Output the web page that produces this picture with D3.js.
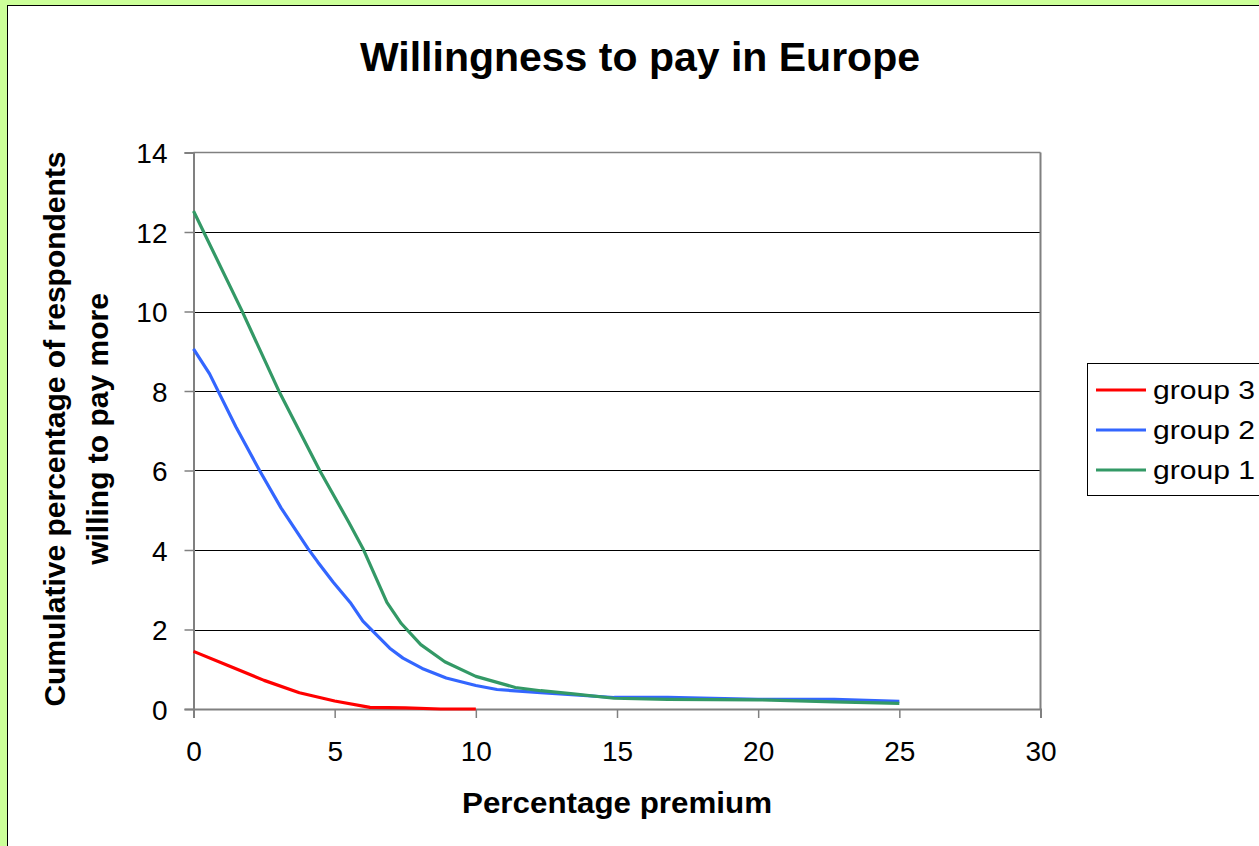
<!DOCTYPE html>
<html>
<head>
<meta charset="utf-8">
<title>Willingness to pay in Europe</title>
<script src="https://d3js.org/d3.v7.min.js"></script>
<style>
  body { margin:0; background:#ccff99; }
  svg { display:block; font-family:"Liberation Sans", Arial, sans-serif; }
</style>
</head>
<body>
<script>
// values: [premium %, cumulative %]
var group1 = [[0,12.53],[1.7,10.04],[3.05,7.96],[4.47,6.0],[5.5,4.7],[6.0,4.04],[6.85,2.68],[7.36,2.15],[8.05,1.62],[8.9,1.19],[10.0,0.82],[11.4,0.54],[12.3,0.46],[13.45,0.38],[14.9,0.27],[16.8,0.24],[20,0.23],[22.7,0.18],[25,0.14]];
var group2 = [[0,9.06],[0.57,8.43],[1.5,7.1],[2.34,6.0],[3.1,5.06],[4.05,4.04],[4.4,3.7],[4.95,3.19],[5.55,2.68],[6.0,2.21],[6.95,1.53],[7.42,1.28],[8.1,1.02],[8.95,0.78],[10.0,0.59],[10.75,0.49],[12.3,0.41],[14.9,0.29],[16.8,0.29],[20,0.24],[22.7,0.24],[25,0.19]];
var group3 = [[0,1.45],[1.2,1.1],[2.5,0.72],[3.75,0.41],[5,0.2],[6.25,0.04],[7.5,0.03],[8.75,0],[10,0]];
var seriesNames = ["group 3","group 2","group 1"];
var seriesColors = ["#ff0000","#3366ff","#339966"];
var xTicks = [0,5,10,15,20,25,30];
var yTicks = [0,2,4,6,8,10,12,14];

const w = 1259, h = 846;
const pLeft = 193.5, pRight = 1040.5, pTop = 152.5, pBottom = 709;

const svg = d3.select("body").append("svg").attr("width", w).attr("height", h);

// white panel
svg.append("rect").attr("x",7.5).attr("y",5.5).attr("width",w).attr("height",h)
   .attr("fill","#fff").attr("stroke","#000").attr("stroke-width",1);

const x = d3.scaleLinear().domain([0,30]).range([pLeft,pRight]);
const y = d3.scaleLinear().domain([0,14]).range([pBottom,pTop]);

// gridlines
svg.append("g").selectAll("line").data(yTicks.filter(d => d > 0 && d < 14)).enter().append("line")
   .attr("x1",pLeft).attr("x2",pRight).attr("y1",d => Math.round(y(d))+0.5).attr("y2",d => Math.round(y(d))+0.5)
   .attr("stroke","#000").attr("stroke-width",1);
svg.append("line").attr("x1",pLeft).attr("x2",pRight).attr("y1",pTop).attr("y2",pTop).attr("stroke","#808080").attr("stroke-width",1.5);
svg.append("line").attr("x1",pRight).attr("x2",pRight).attr("y1",pTop).attr("y2",pBottom).attr("stroke","#808080").attr("stroke-width",2);

// axes
const xAxis = svg.append("g").attr("transform","translate(0,"+pBottom+")")
   .call(d3.axisBottom(x).tickValues(xTicks).tickSize(9).tickPadding(23));
const yAxis = svg.append("g").attr("transform","translate("+pLeft+",0)")
   .call(d3.axisLeft(y).tickValues(yTicks).tickSize(9).tickPadding(17));
[xAxis, yAxis].forEach(function(a){
  a.select(".domain").attr("stroke","#808080").attr("stroke-width",2);
  a.selectAll(".tick line").attr("stroke","#808080").attr("stroke-width",1.5);
  a.selectAll("text").attr("font-size",28).attr("fill","#000").attr("font-family","Liberation Sans, Arial, sans-serif");
});
yAxis.selectAll("text").attr("dy","0.36em");

// series lines
const line = d3.line().x(d => x(d[0])).y(d => y(d[1]));
[group3, group2, group1].forEach(function(s, i){
  svg.append("path").datum(s).attr("d", line).attr("fill","none")
     .attr("stroke", seriesColors[i]).attr("stroke-width",3.2).attr("stroke-linejoin","round");
});

// titles
svg.append("text").attr("x",640).attr("y",71).attr("text-anchor","middle")
   .attr("font-size",41).attr("font-weight","bold").text("Willingness to pay in Europe");
svg.append("text").attr("x",617).attr("y",813).attr("text-anchor","middle")
   .attr("font-size",29).attr("font-weight","bold")
   .attr("textLength",310).attr("lengthAdjust","spacingAndGlyphs").text("Percentage premium");
const yt = svg.append("text").attr("transform","translate(0,429) rotate(-90)")
   .attr("text-anchor","middle").attr("font-size",30).attr("font-weight","bold");
yt.append("tspan").attr("x",0).attr("y",65).text("Cumulative percentage of respondents");
yt.append("tspan").attr("x",0).attr("y",108).text("willing to pay more");

// legend
const lg = svg.append("g");
lg.append("rect").attr("x",1087.5).attr("y",363.5).attr("width",200).attr("height",132)
  .attr("fill","#fff").attr("stroke","#000").attr("stroke-width",1);
seriesNames.forEach(function(n, i){
  const yy = 390 + i*40;
  lg.append("line").attr("x1",1096).attr("x2",1146).attr("y1",yy).attr("y2",yy)
    .attr("stroke",seriesColors[i]).attr("stroke-width",3.2);
  lg.append("text").attr("x",1153).attr("y",yy+9).attr("font-size",25)
    .attr("textLength",102).attr("lengthAdjust","spacingAndGlyphs").text(n);
});
</script>
</body>
</html>
